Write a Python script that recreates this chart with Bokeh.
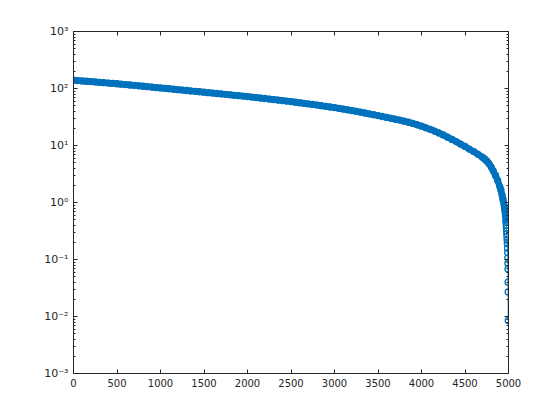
from bokeh.plotting import figure
from bokeh.models import LinearAxis, LogAxis, FixedTicker, ColumnDataSource
from bokeh.embed import file_html
from bokeh.resources import INLINE

# Sample index (x) and sorted value (y)
index = [
    0, 50, 100, 150, 200, 250, 300, 350, 400, 450,
    500, 550, 600, 650, 700, 750, 800, 850, 900, 950,
    1000, 1050, 1100, 1150, 1200, 1250, 1300, 1350, 1400, 1450,
    1500, 1550, 1600, 1650, 1700, 1750, 1800, 1850, 1900, 1950,
    2000, 2050, 2100, 2150, 2200, 2250, 2300, 2350, 2400, 2450,
    2500, 2550, 2600, 2650, 2700, 2750, 2800, 2850, 2900, 2950,
    3000, 3050, 3100, 3150, 3200, 3250, 3300, 3350, 3400, 3450,
    3500, 3550, 3600, 3650, 3700, 3750, 3800, 3850, 3900, 3950,
    4000, 4050, 4100, 4150, 4200, 4250, 4300, 4350, 4400, 4450,
    4500, 4550, 4600, 4650, 4700, 4725, 4750, 4775, 4800, 4825,
    4850, 4875, 4900, 4912, 4925, 4935, 4940, 4950, 4955, 4960,
    4965, 4970, 4972, 4974, 4976, 4978, 4980, 4982, 4984, 4986,
    4988, 4990, 4992, 4993, 4994, 4995, 4996, 4997,
]
values = [
    140.0, 138.0, 135.8, 134.0, 132.1, 130.3, 128.2, 126.5, 124.7, 122.7,
    121.1, 119.1, 117.2, 115.3, 113.5, 111.4, 109.6, 107.6, 105.9, 104.0,
    102.3, 100.7, 98.9, 97.3, 95.5, 94.0, 92.3, 90.8, 89.1, 87.7,
    86.1, 84.5, 83.2, 81.7, 80.4, 78.9, 77.4, 76.0, 74.8, 73.5,
    72.1, 70.6, 69.3, 67.9, 66.7, 65.3, 64.0, 62.7, 61.4, 60.1,
    58.9, 57.5, 56.2, 55.0, 53.7, 52.5, 51.2, 49.9, 48.6, 47.4,
    46.2, 44.9, 43.6, 42.3, 41.0, 39.8, 38.5, 37.2, 35.9, 34.7,
    33.5, 32.3, 31.1, 30.0, 28.9, 27.9, 26.7, 25.6, 24.4, 23.1,
    21.8, 20.5, 19.2, 17.9, 16.6, 15.3, 14.0, 12.8, 11.7, 10.6,
    9.6, 8.67, 7.82, 7.00, 6.24, 5.82, 5.37, 4.84, 4.22, 3.59,
    2.99, 2.43, 1.91, 1.66, 1.38, 1.17, 1.07, 0.89, 0.79, 0.69,
    0.59, 0.49, 0.447, 0.398, 0.355, 0.316, 0.282, 0.251, 0.219, 0.191,
    0.158, 0.132, 0.107, 0.085, 0.068, 0.040, 0.027, 0.0085,
]
# the first samples are so dense in the original that their markers merge
dense_count = 112

x_ticks = [0, 500, 1000, 1500, 2000, 2500, 3000, 3500, 4000, 4500, 5000]
y_ticks = [0.001, 0.01, 0.1, 1, 10, 100, 1000]
y_tick_labels = ["10\u207b\u00b3", "10\u207b\u00b2", "10\u207b\u00b9", "10\u2070",
                 "10\u00b9", "10\u00b2", "10\u00b3"]
y_minor = [m * d for d in [0.001, 0.01, 0.1, 1, 10, 100] for m in range(2, 10)]

BLUE = "#0072BD"
AX = "#262626"

p = figure(width=552, height=412, y_axis_type="log",
           x_range=(0, 5000), y_range=(0.001, 1000),
           output_backend="svg", toolbar_location=None,
           min_border_left=73, min_border_right=44,
           min_border_top=31, min_border_bottom=39)
p.grid.visible = False
p.outline_line_color = AX
p.background_fill_color = "white"
p.border_fill_color = "white"

src = ColumnDataSource(dict(x=index, y=values))
dense = ColumnDataSource(dict(x=index[:dense_count], y=values[:dense_count]))
p.line("x", "y", source=dense, line_color=BLUE, line_width=6.5,
       line_join="round", line_cap="round")
p.line("x", "y", source=src, line_color=BLUE, line_width=1)
p.scatter("x", "y", source=src, marker="circle", size=6,
          line_color=BLUE, fill_color=None, line_width=1.3)

xt = FixedTicker(ticks=x_ticks)
yt = FixedTicker(ticks=y_ticks, minor_ticks=y_minor)
overrides = {t: l for t, l in zip(y_ticks, y_tick_labels)}


def style(ax, labels=True):
    ax.axis_line_color = AX
    ax.major_tick_line_color = AX
    ax.minor_tick_line_color = AX
    ax.major_tick_in = 4
    ax.major_tick_out = 0
    ax.minor_tick_in = 2
    ax.minor_tick_out = 0
    ax.major_label_text_font = "DejaVu Sans"
    ax.major_label_text_font_size = "10px"
    ax.major_label_standoff = 5
    ax.major_label_text_color = AX if labels else None


xa = p.xaxis[0]
xa.ticker = xt
style(xa)
xa.minor_tick_line_color = None

ya = p.yaxis[0]
ya.ticker = yt
ya.major_label_overrides = overrides
style(ya)
ya.major_label_text_font_size = "11px"

top = LinearAxis(ticker=FixedTicker(ticks=x_ticks))
style(top, labels=False)
top.minor_tick_line_color = None
p.add_layout(top, "above")

right = LogAxis(ticker=FixedTicker(ticks=y_ticks, minor_ticks=y_minor))
style(right, labels=False)
p.add_layout(right, "right")

open("out.html", "w").write(file_html(p, INLINE))
